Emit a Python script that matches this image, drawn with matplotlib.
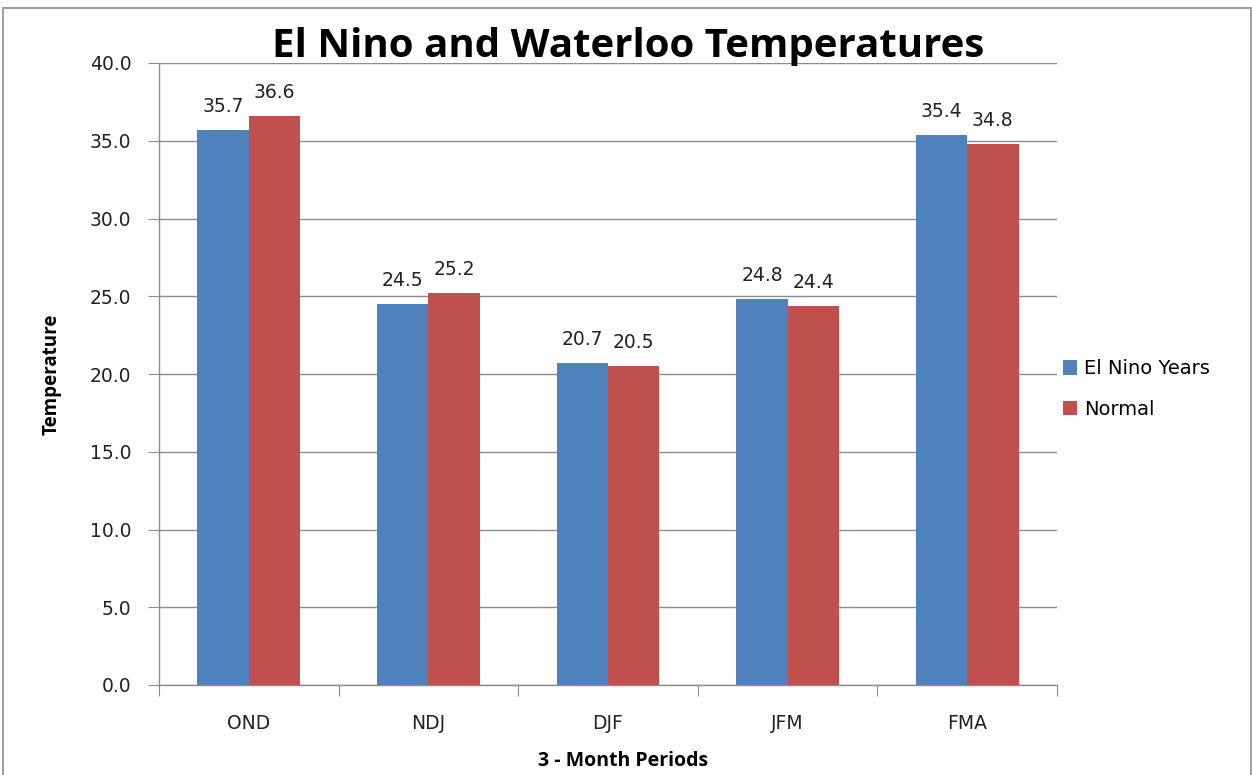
import matplotlib
matplotlib.use("Agg")
import matplotlib.pyplot as plt
import numpy as np
from matplotlib.patches import Rectangle

periods = ["OND", "NDJ", "DJF", "JFM", "FMA"]
el_nino = [35.7, 24.5, 20.7, 24.8, 35.4]
normal = [36.6, 25.2, 20.5, 24.4, 34.8]
y_ticks = [0, 5, 10, 15, 20, 25, 30, 35, 40]

BLUE = "#4F81BD"
RED = "#C0504D"
GRID = "#8C8C8C"
BODY = ["DejaVu Sans"]
HEAD = ["Open Sans", "DejaVu Sans"]

W, H = 1252, 775
fig = plt.figure(figsize=(W / 100, H / 100), dpi=100)
fig.patch.set_facecolor("white")

# outer chart border
fig.add_artist(Rectangle((3 / W, -0.01), (W - 4) / W, 1.0, transform=fig.transFigure,
                         fill=False, edgecolor="#A0A0A0", linewidth=1.5))

left, right, top, bottom = 159, 1057, 63, 685
ax = fig.add_axes([left / W, 1 - bottom / H, (right - left) / W, (bottom - top) / H])

x = np.arange(len(periods))
bw = 1 / 3.5
b1 = ax.bar(x - bw / 2, el_nino, bw, color=BLUE, label="El Nino Years", zorder=3)
b2 = ax.bar(x + bw / 2, normal, bw, color=RED, label="Normal", zorder=3)

for bars, vals in ((b1, el_nino), (b2, normal)):
    for r, v in zip(bars, vals):
        ax.text(r.get_x() + r.get_width() / 2, v + 0.9, f"{v:.1f}", ha="center", va="bottom",
                fontsize=13.5, family=BODY, color="#222222")

ax.set_xlim(-0.5, len(periods) - 0.5)
ax.set_ylim(0, 40)
ax.set_yticks(y_ticks)
ax.set_yticklabels([f"{t:.1f}" for t in y_ticks], family=BODY, fontsize=13.5, color="#222222")
ax.yaxis.grid(True, color=GRID, linewidth=1, zorder=0)
ax.set_axisbelow(True)

# category labels between boundary ticks
ax.set_xticks(np.arange(-0.5, len(periods)), minor=False)
ax.set_xticklabels([])
ax.set_xticks(x, minor=True)
ax.set_xticklabels(periods, minor=True, family=BODY, fontsize=13.5, color="#222222")
ax.tick_params(axis="x", which="major", length=8, color=GRID, direction="out")
ax.tick_params(axis="x", which="minor", length=0, pad=21)
ax.tick_params(axis="y", length=8, color=GRID, direction="out", pad=12)

for s in ("top", "right"):
    ax.spines[s].set_visible(False)
for s in ("left", "bottom"):
    ax.spines[s].set_color(GRID)
    ax.spines[s].set_linewidth(1)

fig.text(628 / W, 1 - 46 / H, "El Nino and Waterloo Temperatures", ha="center", va="center",
         fontsize=29, fontweight="bold", family=HEAD)
fig.text(52 / W, 1 - 374 / H, "Temperature", ha="center", va="center", rotation=90,
         fontsize=13.5, fontweight="bold", family=HEAD)
fig.text(623 / W, 1 - 761 / H, "3 - Month Periods", ha="center", va="center",
         fontsize=14, fontweight="bold", family=HEAD)

fig.legend(handles=[b1, b2], loc="center left", bbox_to_anchor=(1045 / W, 1 - 389 / H),
           frameon=False, prop={"family": BODY, "size": 14}, handlelength=0.75,
           handleheight=0.75, handletextpad=0.35, labelspacing=1.1)

fig.savefig("out.png", dpi=100)
